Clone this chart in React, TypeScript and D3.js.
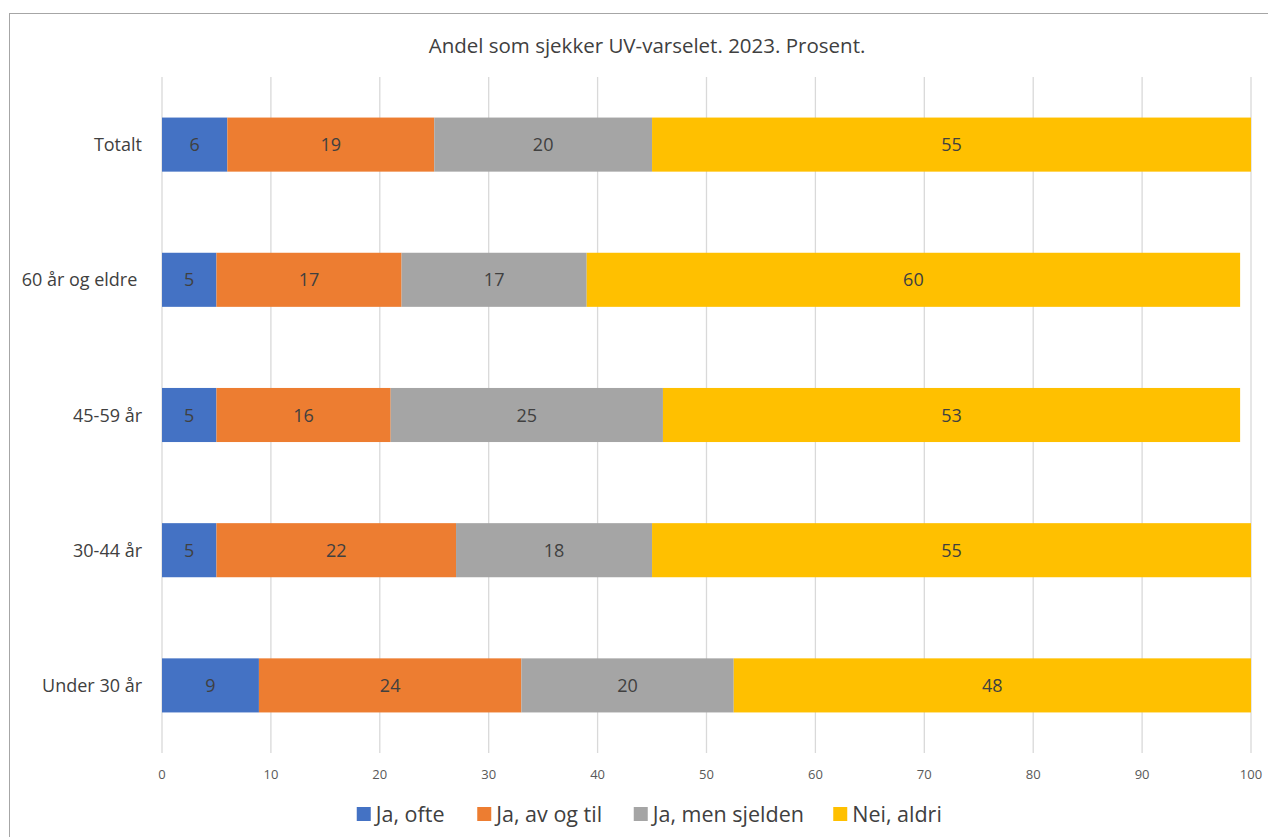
import React from "react";
import * as d3 from "d3";

const title = "Andel som sjekker UV-varselet. 2023. Prosent.";
const categories = ["Totalt", "60 år og eldre ", "45-59 år", "30-44 år", "Under 30 år"];
const seriesNames = ["Ja, ofte", "Ja, av og til", "Ja, men sjelden", "Nei, aldri"];
const jaOfte = [6, 5, 5, 5, 8.9];
const jaAvOgTil = [19, 17, 16, 22, 24.1];
const jaMenSjelden = [20, 17, 25, 18, 19.5];
const neiAldri = [55, 60, 53, 55, 47.5];
const colors = ["#4472C4", "#ED7D31", "#A5A5A5", "#FFC000"];
const xTicks = [0, 10, 20, 30, 40, 50, 60, 70, 80, 90, 100];

const W = 1268;
const H = 837;
const FONT = "'Open Sans', 'Liberation Sans', sans-serif";

export default function App() {
  const seriesValues = [jaOfte, jaAvOgTil, jaMenSjelden, neiAldri];
  const rows = categories.map((c, i) => {
    const r: any = { cat: c };
    seriesNames.forEach((s, j) => (r[s] = seriesValues[j][i]));
    return r;
  });
  const stacked = d3.stack<any>().keys(seriesNames)(rows);

  const x = d3.scaleLinear().domain([0, 100]).range([162, 1251]);
  const y = d3.scaleBand().domain(categories).range([77, 753]).paddingInner(0.6).paddingOuter(0.3);

  // legend layout
  const legendWidths = [71, 107, 150, 89];
  const sq = 14;
  const gapText = 5;
  const gapItem = 30.5;
  const totalLegend = legendWidths.reduce((a, b) => a + b, 0) + 4 * (sq + gapText) + 3 * gapItem;
  let lx = 649 - totalLegend / 2;
  const legendItems = seriesNames.map((s, i) => {
    const item = { name: s, x: lx, color: colors[i] };
    lx += sq + gapText + legendWidths[i] + gapItem;
    return item;
  });

  return (
    <svg
      width={W}
      height={H}
      style={{ position: "absolute", left: 0, top: 0, fontFamily: FONT }}
    >
      <rect x={0} y={0} width={W} height={H} fill="#fff" />
      <rect x={9.5} y={13.5} width={1300} height={900} fill="none" stroke="#A6A6A6" strokeWidth={1} />
      <text x={647} y={53} textAnchor="middle" fontSize={20.5} fill="#404040">
        {title}
      </text>
      {xTicks.map((t) => (
        <g key={t}>
          <line x1={x(t)} x2={x(t)} y1={77} y2={753} stroke="#D9D9D9" strokeWidth={1.3} />
          <text x={x(t)} y={779} textAnchor="middle" fontSize={13} fill="#595959">
            {t}
          </text>
        </g>
      ))}
      {stacked.map((layer, j) => (
        <g key={layer.key} fill={colors[j]}>
          {layer.map((d, i) => (
            <rect
              key={i}
              x={x(d[0])}
              y={y(categories[i])}
              width={x(d[1]) - x(d[0])}
              height={y.bandwidth()}
            />
          ))}
        </g>
      ))}
      {stacked.map((layer, j) => (
        <g key={"l" + layer.key}>
          {layer.map((d, i) => (
            <text
              key={i}
              x={(x(d[0]) + x(d[1])) / 2}
              y={(y(categories[i]) as number) + y.bandwidth() / 2 + 6.5}
              textAnchor="middle"
              fontSize={18}
              fill="#404040"
            >
              {Math.round(d[1] - d[0])}
            </text>
          ))}
        </g>
      ))}
      {categories.map((c) => (
        <text
          key={c}
          x={142}
          y={(y(c) as number) + y.bandwidth() / 2 + 6.5}
          textAnchor="end"
          fontSize={18}
          fill="#404040"
          style={{ whiteSpace: "pre" }}
        >
          {c}
        </text>
      ))}
      {legendItems.map((it) => (
        <g key={it.name}>
          <rect x={it.x} y={807} width={sq} height={sq} fill={it.color} />
          <text x={it.x + sq + gapText} y={822} fontSize={21.5} fill="#404040">
            {it.name}
          </text>
        </g>
      ))}
    </svg>
  );
}
